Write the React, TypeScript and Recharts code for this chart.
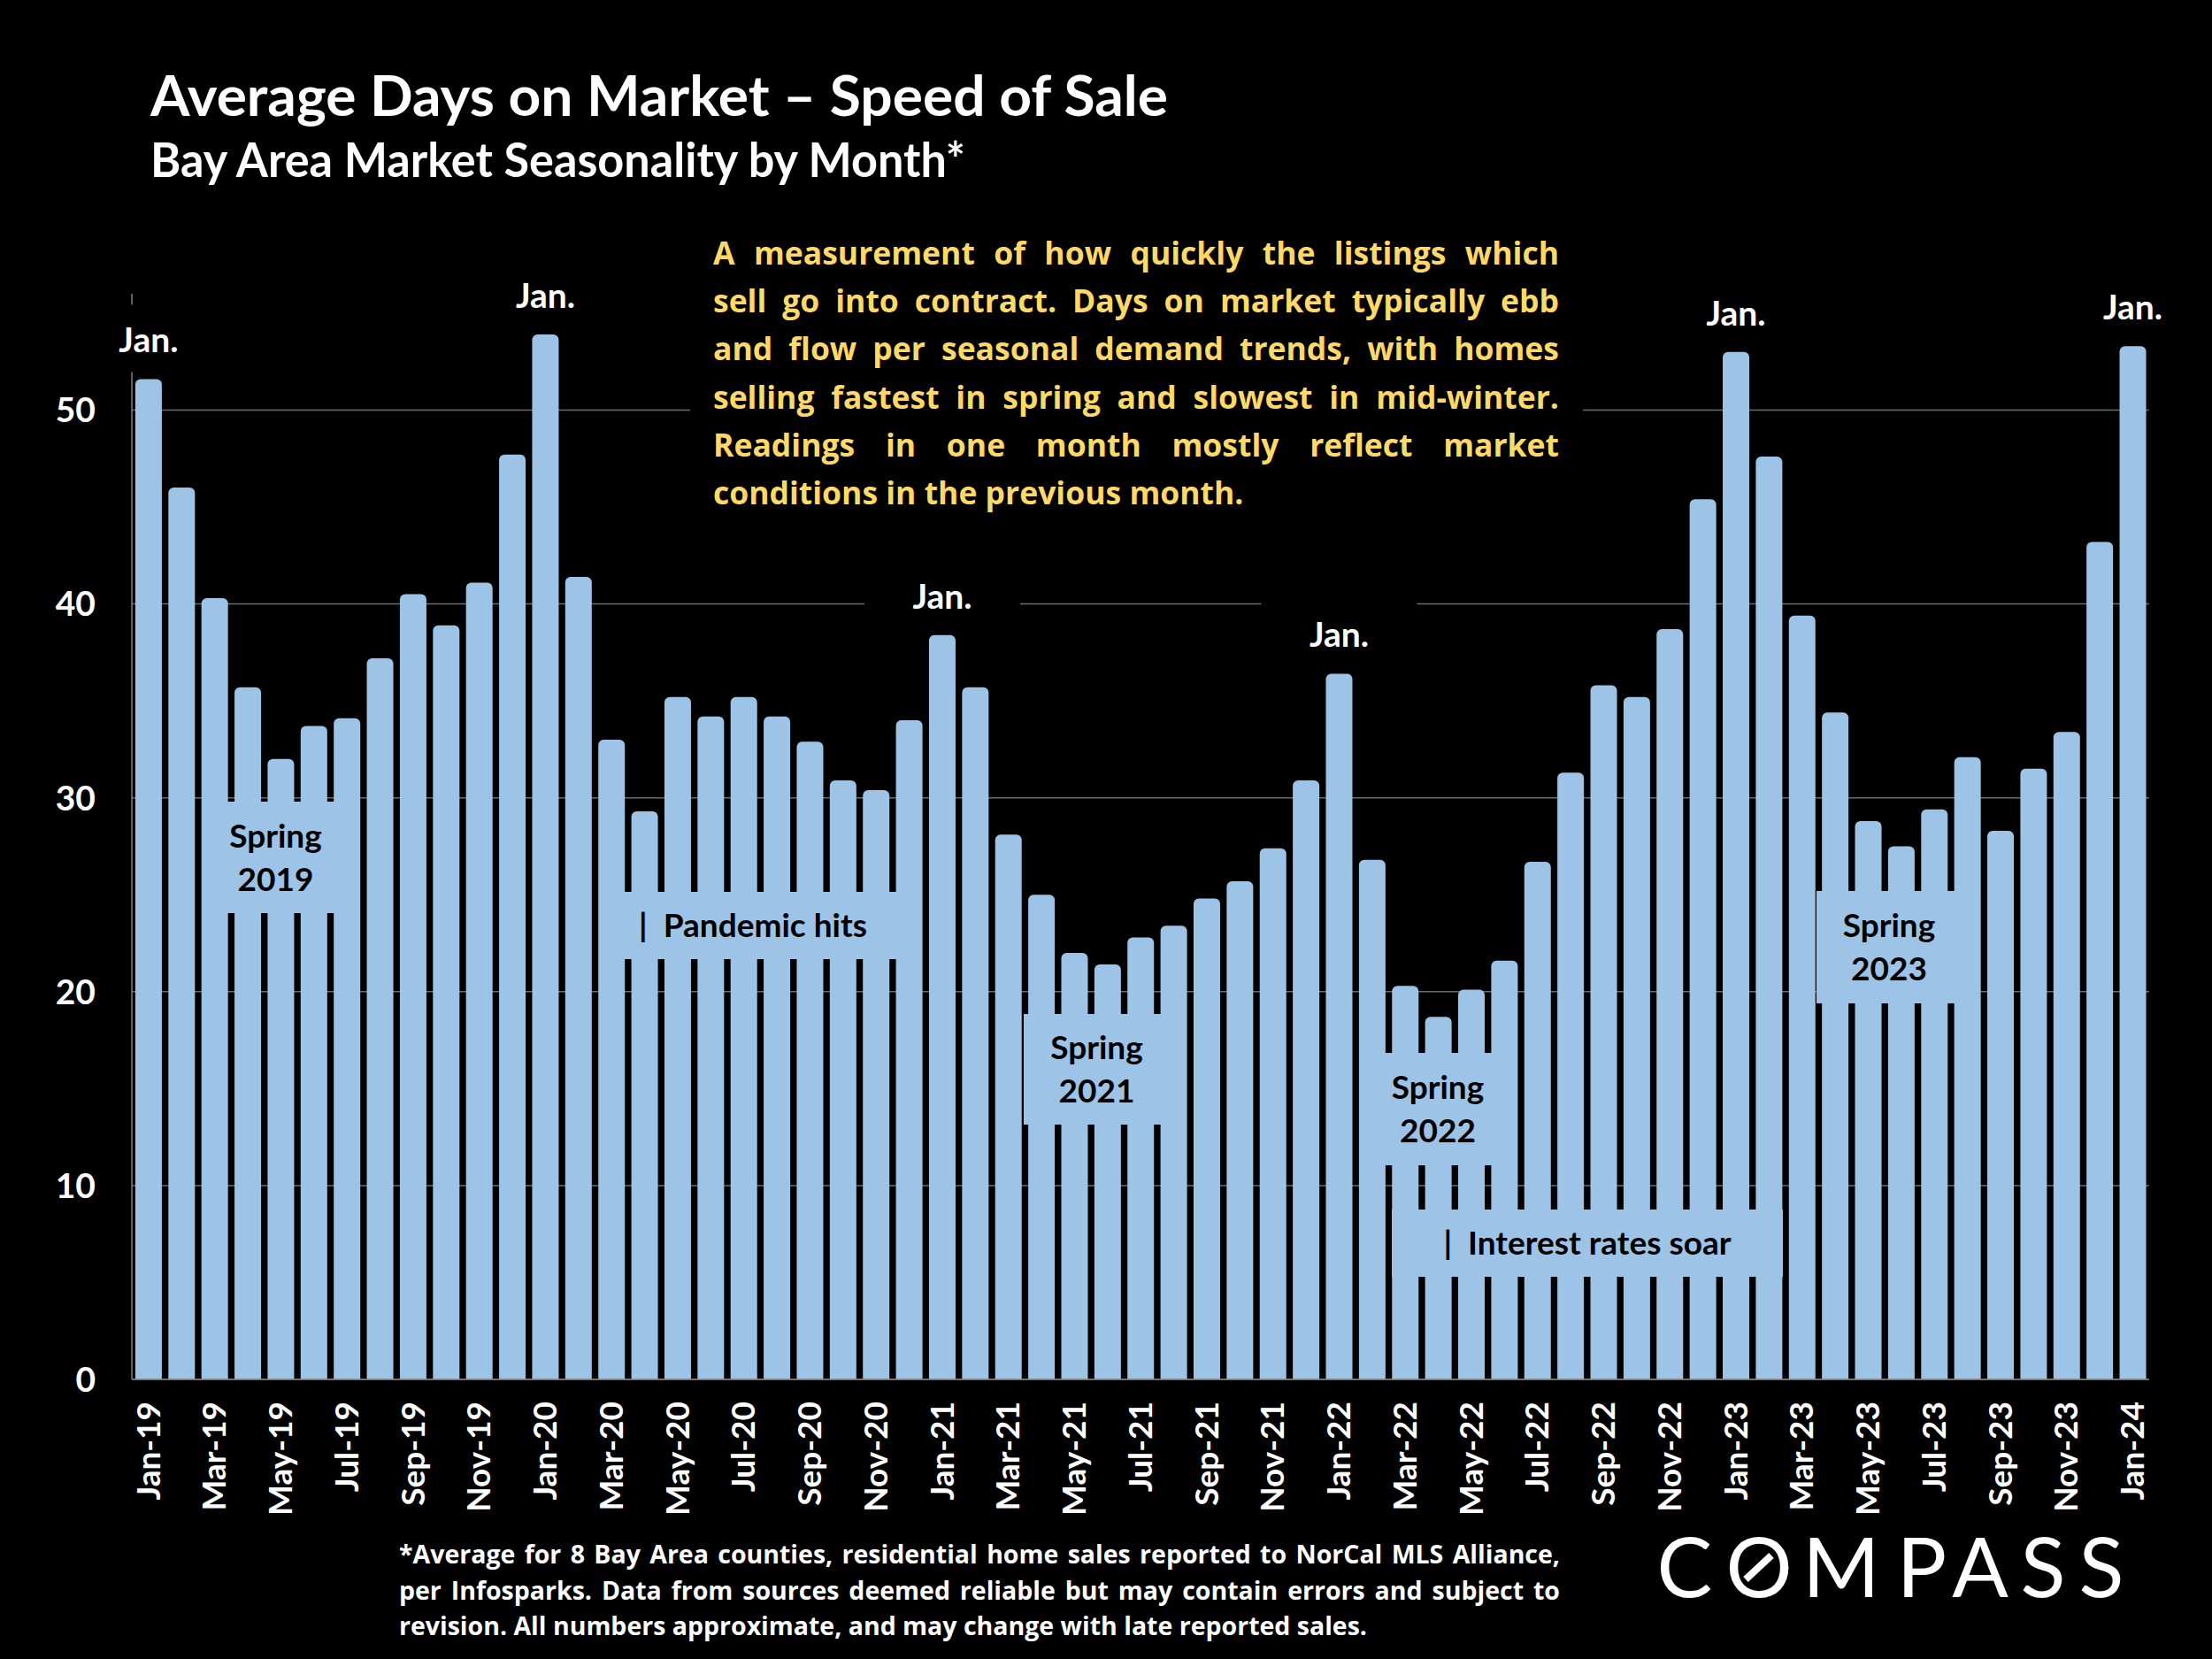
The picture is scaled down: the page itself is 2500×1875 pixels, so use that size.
import React from 'react';
import { BarChart, Bar, XAxis, YAxis, CartesianGrid, LabelList } from 'recharts';

const months = [
  'Jan-19', 'Feb-19', 'Mar-19', 'Apr-19', 'May-19', 'Jun-19', 'Jul-19', 'Aug-19', 'Sep-19', 'Oct-19', 'Nov-19', 'Dec-19',
  'Jan-20', 'Feb-20', 'Mar-20', 'Apr-20', 'May-20', 'Jun-20', 'Jul-20', 'Aug-20', 'Sep-20', 'Oct-20', 'Nov-20', 'Dec-20',
  'Jan-21', 'Feb-21', 'Mar-21', 'Apr-21', 'May-21', 'Jun-21', 'Jul-21', 'Aug-21', 'Sep-21', 'Oct-21', 'Nov-21', 'Dec-21',
  'Jan-22', 'Feb-22', 'Mar-22', 'Apr-22', 'May-22', 'Jun-22', 'Jul-22', 'Aug-22', 'Sep-22', 'Oct-22', 'Nov-22', 'Dec-22',
  'Jan-23', 'Feb-23', 'Mar-23', 'Apr-23', 'May-23', 'Jun-23', 'Jul-23', 'Aug-23', 'Sep-23', 'Oct-23', 'Nov-23', 'Dec-23',
  'Jan-24',
];

// average days on market
const daysOnMarket = [
  51.6, 46.0, 40.3, 35.7, 32.0, 33.7, 34.1, 37.2, 40.5, 38.9, 41.1, 47.7,
  53.9, 41.4, 33.0, 29.3, 35.2, 34.2, 35.2, 34.2, 32.9, 30.9, 30.4, 34.0,
  38.4, 35.7, 28.1, 25.0, 22.0, 21.4, 22.8, 23.4, 24.8, 25.7, 27.4, 30.9,
  36.4, 26.8, 20.3, 18.7, 20.1, 21.6, 26.7, 31.3, 35.8, 35.2, 38.7, 45.4,
  53.0, 47.6, 39.4, 34.4, 28.8, 27.5, 29.4, 32.1, 28.3, 31.5, 33.4, 43.2,
  53.3,
];

const yTicks = [0, 10, 20, 30, 40, 50];
const janMarker = 'Jan.';

const descLines = [
  'A measurement of how quickly the listings which',
  'sell go into contract. Days on market typically ebb',
  'and flow per seasonal demand trends, with homes',
  'selling fastest in spring and slowest in mid-winter.',
  'Readings in one month mostly reflect market',
  'conditions in the previous month.',
];

const footLines = [
  '*Average for 8 Bay Area counties, residential home sales reported to NorCal MLS Alliance,',
  'per Infosparks. Data from sources deemed reliable but may contain errors and subject to',
  'revision. All numbers approximate, and may change with late reported sales.',
];

const callouts = [
  { lines: ['Spring', '2019'], x: 228, y: 906, w: 167, h: 126 },
  { lines: ['|  Pandemic hits'], x: 689, y: 1008, w: 324, h: 76 },
  { lines: ['Spring', '2021'], x: 1157, y: 1146, w: 165, h: 125 },
  { lines: ['Spring', '2022'], x: 1537, y: 1190, w: 176, h: 127 },
  { lines: ['|  Interest rates soar'], x: 1573, y: 1367, w: 442, h: 76 },
  { lines: ['Spring', '2023'], x: 2053, y: 1007, w: 164, h: 127 },
];

const data = months.map((m, i) => ({
  month: m,
  days: daysOnMarket[i],
  marker: m.startsWith('Jan') ? janMarker : '',
}));

const FONT = 'Lato, "Open Sans", sans-serif';
const WIDE_FONT = '"Open Sans", Lato, sans-serif';
const BAR_BLUE = '#9DC3E6';
const GRID = '#6b6b6b';

const MonthTick = ({ x, y, payload }: any) => (
  <text
    x={x}
    y={y}
    transform={`rotate(-90, ${x}, ${y})`}
    textAnchor="end"
    dy="0.35em"
    fill="#fff"
    fontSize={37}
    fontWeight={700}
    fontFamily={FONT}
  >
    {payload.value}
  </text>
);

const JanLabel = (props: any) => {
  const { value } = props;
  if (!value) return null;
  const vb = props.viewBox || props;
  const cx = vb.x + vb.width / 2;
  const base = vb.y - 30;
  return (
    <g>
      <rect x={cx - 88} y={base - 54} width={176} height={76} fill="#000" />
      <text x={cx} y={base} textAnchor="middle" fill="#fff" fontSize={39} fontWeight={700} fontFamily={FONT}>
        {value}
      </text>
    </g>
  );
};

const lineStyle = (last: boolean): React.CSSProperties => ({
  textAlign: last ? 'left' : 'justify',
  textAlignLast: last ? 'left' : 'justify',
  whiteSpace: 'nowrap',
});

const App: React.FC = () => {
  return (
    <div style={{ position: 'absolute', left: 0, top: 0, width: 2500, height: 1875, background: '#000', overflow: 'hidden', fontFamily: FONT }}>
      <BarChart
        width={2500}
        height={1875}
        data={data}
        margin={{ top: 332, right: 71, left: 49, bottom: 116 }}
        barCategoryGap="10.5%"
      >
        <CartesianGrid vertical={false} horizontalValues={yTicks} stroke={GRID} strokeWidth={1.5} />
        <XAxis
          dataKey="month"
          interval={1}
          height={200}
          tickLine={false}
          tickSize={6}
          tickMargin={19}
          axisLine={{ stroke: '#7f7f7f', strokeWidth: 1.5 }}
          tick={<MonthTick />}
        />
        <YAxis
          domain={[0, 56]}
          ticks={yTicks}
          interval={0}
          width={100}
          tickLine={false}
          tickMargin={35}
          axisLine={{ stroke: '#7f7f7f', strokeWidth: 1.5 }}
          tick={{ fill: '#fff', fontSize: 39, fontWeight: 700, fontFamily: FONT }}
        />
        <Bar dataKey="days" fill={BAR_BLUE} radius={[6, 6, 0, 0]} isAnimationActive={false}>
          <LabelList dataKey="marker" content={<JanLabel />} />
        </Bar>
      </BarChart>

      <svg width={2500} height={1875} style={{ position: 'absolute', left: 0, top: 0, pointerEvents: 'none' }}>
        <text x={170} y={131} fill="#fff" fontSize={63} fontWeight={700} fontFamily={FONT} textLength={1150} lengthAdjust="spacingAndGlyphs">
          Average Days on Market – Speed of Sale
        </text>
        <text x={170} y={200} fill="#fff" fontSize={53} fontWeight={700} fontFamily={FONT} textLength={921} lengthAdjust="spacingAndGlyphs">
          Bay Area Market Seasonality by Month*
        </text>
        <rect x={780} y={252} width={1009} height={343} fill="#000" />

        {callouts.map((c, i) => {
          const mid = c.y + c.h / 2;
          return (
            <g key={i}>
              <rect x={c.x} y={c.y} width={c.w} height={c.h} fill={BAR_BLUE} />
              {c.lines.map((t, j) => {
                const offset = c.lines.length === 1 ? 0 : (j === 0 ? -24.5 : 24.5);
                return (
                  <text
                    key={j}
                    x={c.x + c.w / 2}
                    y={mid + offset + 13}
                    textAnchor="middle"
                    fill="#000"
                    fontSize={37}
                    fontWeight={700}
                    fontFamily={FONT}
                    style={{ whiteSpace: 'pre' }}
                  >
                    {t}
                  </text>
                );
              })}
            </g>
          );
        })}

        <text
          x="1904 1988 2081 2172 2238 2309 2375"
          y={1805}
          textAnchor="middle"
          fill="#fff"
          fontSize={94}
          fontWeight={400}
          fontFamily={FONT}
        >
          COMPASS
        </text>
        <line x1={1973} y1={1785} x2={2002} y2={1758} stroke="#fff" strokeWidth={8} />
      </svg>

      <div style={{ position: 'absolute', left: 806, top: 258, width: 956, fontFamily: WIDE_FONT, fontSize: 35.5, lineHeight: '54.2px', color: '#FFD966', fontWeight: 700 }}>
        {descLines.map((t, i) => (
          <div key={i} style={lineStyle(i === descLines.length - 1)}>{t}</div>
        ))}
      </div>

      <div style={{ position: 'absolute', left: 451, top: 1736, width: 1312, fontFamily: WIDE_FONT, fontSize: 28.5, lineHeight: '40.5px', color: '#fff', fontWeight: 700 }}>
        {footLines.map((t, i) => (
          <div key={i} style={lineStyle(i === footLines.length - 1)}>{t}</div>
        ))}
      </div>
    </div>
  );
};

export default App;
